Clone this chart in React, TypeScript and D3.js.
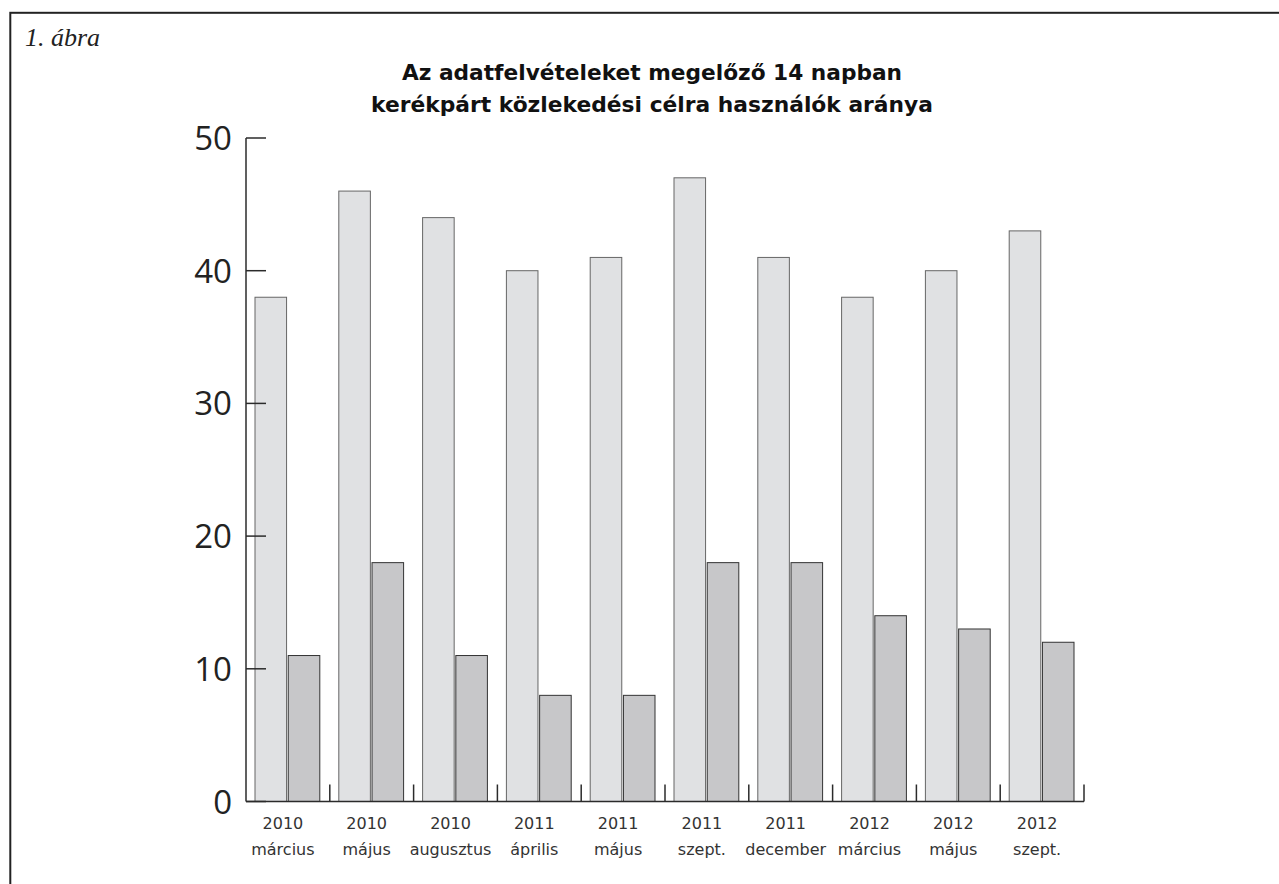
import React from "react";
import * as d3 from "d3";

const categoryYears = ["2010", "2010", "2010", "2011", "2011", "2011", "2011", "2012", "2012", "2012"];
const categoryMonths = ["március", "május", "augusztus", "április", "május", "szept.", "december", "március", "május", "szept."];
const seriesKeys = ["a", "b"];
const seriesA = [38, 46, 44, 40, 41, 47, 41, 38, 40, 43];
const seriesB = [11, 18, 11, 8, 8, 18, 18, 14, 13, 12];
const yTicks = [0, 10, 20, 30, 40, 50];
const titleLines = ["Az adatfelvételeket megelőző 14 napban", "kerékpárt közlekedési célra használók aránya"];
const figLabel = "1. ábra";

const W = 1279;
const H = 884;
const left = 246;
const right = 1084;
const top = 138;
const bottom = 801.5;

export default function App() {
  const idx = categoryYears.map((_, i) => String(i));
  const x = d3.scaleBand<string>().domain(idx).range([left, right]).paddingInner(0).paddingOuter(0);
  const bw = x.bandwidth();
  const xs = d3.scaleBand<string>().domain(seriesKeys).range([9, bw - 10]).paddingInner(0.05);
  const y = d3.scaleLinear().domain([0, 50]).range([bottom, top]);
  const values = [seriesA, seriesB];
  const fills = ["#e0e1e3", "#c7c7c9"];
  const strokes = ["#666666", "#333333"];
  const axisColor = "#2b2b2b";

  return (
    <svg width={W} height={H} style={{ position: "absolute", left: 0, top: 0, background: "#fff" }}>
      <rect x={10.3} y={12.8} width={1400} height={1000} fill="none" stroke="#222" strokeWidth={2} />
      <text x={25} y={46} fontFamily="Liberation Serif" fontStyle="italic" fontSize={26} fill="#222">{figLabel}</text>
      {titleLines.map((t, i) => (
        <text key={i} x={652} y={80 + i * 32} textAnchor="middle" fontFamily="DejaVu Sans" fontWeight="bold" fontSize={21} fill="#111"
          textLength={i === 0 ? 500 : 562} lengthAdjust="spacingAndGlyphs">{t}</text>
      ))}
      {values.map((vals, s) =>
        vals.map((v, i) => (
          <rect key={`${s}-${i}`} x={(x(String(i)) as number) + (xs(seriesKeys[s]) as number)} y={y(v)}
            width={xs.bandwidth()} height={y(0) - y(v)} fill={fills[s]} stroke={strokes[s]} strokeWidth={1} />
        ))
      )}
      <line x1={left} x2={left} y1={top} y2={bottom} stroke={axisColor} strokeWidth={1.5} />
      {yTicks.map((t) => (
        <g key={t}>
          <line x1={left} x2={left + 20} y1={y(t)} y2={y(t)} stroke={axisColor} strokeWidth={1.5} />
          <text x={232} y={y(t) + 12} textAnchor="end" fontFamily="Open Sans" fontSize={33} fill="#222">{t}</text>
        </g>
      ))}
      <line x1={left} x2={right} y1={bottom} y2={bottom} stroke={axisColor} strokeWidth={1.5} />
      {idx.map((k) => {
        const xe = (x(k) as number) + bw;
        return <line key={k} x1={xe} x2={xe} y1={bottom} y2={bottom - 17} stroke={axisColor} strokeWidth={1.5} />;
      })}
      {idx.map((k, i) => {
        const cx = (x(k) as number) + bw / 2 - 5;
        return (
          <g key={"l" + k}>
            <text x={cx} y={829} textAnchor="middle" fontFamily="DejaVu Sans" fontSize={16} fill="#333">{categoryYears[i]}</text>
            <text x={cx} y={855} textAnchor="middle" fontFamily="DejaVu Sans" fontSize={16} fill="#333">{categoryMonths[i]}</text>
          </g>
        );
      })}
    </svg>
  );
}
